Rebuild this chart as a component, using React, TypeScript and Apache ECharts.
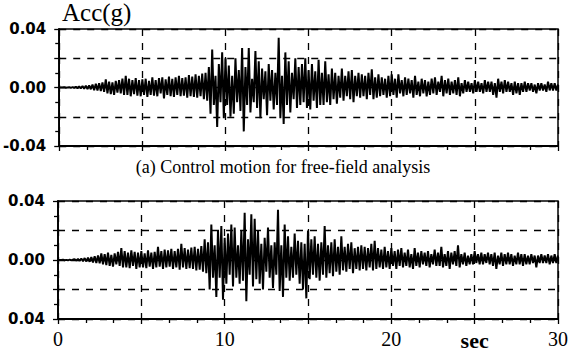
import React, { useEffect, useRef } from "react";
import * as echarts from "echarts";

// sampling step of the digitised records (s)
const SAMPLE_STEP = 0.1;

// (a) control motion, one row per second, 10 samples per row (g)
const topAcc = [
  0, 0, 0, 0.0002, -0.0002, 0, 0.0002, -0.0002, 0.0003, -0.0003,
  0.0005, -0.0005, 0.0008, -0.0006, 0.001, -0.0008, 0.0012, -0.001, 0.0015, -0.0012,
  0.002, -0.0018, 0.0025, -0.002, 0.003, -0.0025, 0.0035, -0.003, 0.0055, -0.004,
  0.004, -0.0045, 0.0035, -0.005, 0.0045, -0.0035, 0.005, -0.004, 0.006, -0.005,
  0.008, -0.005, 0.006, -0.006, 0.005, -0.0045, 0.0065, -0.0055, 0.005, -0.006,
  0.0055, -0.005, 0.006, -0.0065, 0.0045, -0.005, 0.007, -0.0055, 0.005, -0.006,
  0.0065, -0.004, 0.007, -0.0075, 0.0055, -0.005, 0.0075, -0.006, 0.006, -0.0065,
  0.007, -0.005, 0.008, -0.006, 0.0065, -0.0055, 0.007, -0.007, 0.0085, -0.006,
  0.0075, -0.0065, 0.009, -0.007, 0.008, -0.006, 0.0095, -0.008, 0.01, -0.009,
  0.014, -0.018, 0.026, -0.012, 0.008, -0.027, 0.016, -0.01, 0.024, -0.021,
  0.02, -0.012, 0.015, -0.02, 0.008, -0.018, 0.02, -0.01, 0.012, -0.016,
  0.027, -0.03, 0.014, -0.012, 0.027, -0.017, 0.006, -0.01, 0.025, -0.014,
  0.018, -0.021, 0.013, -0.008, 0.011, -0.019, 0.016, -0.009, 0.012, -0.015,
  0.01, -0.012, 0.034, -0.021, 0.008, -0.025, 0.024, -0.012, 0.018, -0.017,
  0.01, -0.008, 0.02, -0.014, 0.014, -0.012, 0.016, -0.01, 0.02, -0.014,
  0.012, -0.015, 0.016, -0.009, 0.011, -0.014, 0.019, -0.012, 0.01, -0.012,
  0.018, -0.01, 0.009, -0.012, 0.013, -0.008, 0.01, -0.011, 0.008, -0.007,
  0.013, -0.009, 0.008, -0.006, 0.011, -0.008, 0.012, -0.01, 0.008, -0.006,
  0.01, -0.007, 0.009, -0.006, 0.008, -0.008, 0.01, -0.005, 0.0125, -0.008,
  0.007, -0.007, 0.009, -0.006, 0.007, -0.005, 0.006, -0.007, 0.008, -0.006,
  0.009, -0.005, 0.006, -0.007, 0.009, -0.004, 0.005, -0.006, 0.007, -0.005,
  0.006, -0.004, 0.005, -0.007, 0.008, -0.005, 0.004, -0.006, 0.006, -0.004,
  0.005, -0.006, 0.004, -0.005, 0.006, -0.004, 0.007, -0.005, 0.004, -0.003,
  0.008, -0.006, 0.005, -0.004, 0.006, -0.005, 0.004, -0.004, 0.005, -0.005,
  0.007, -0.006, 0.003, -0.004, 0.005, -0.003, 0.004, -0.003, 0.003, -0.004,
  0.005, -0.003, 0.004, -0.003, 0.003, -0.004, 0.005, -0.003, 0.004, -0.003,
  0.004, -0.005, 0.003, -0.007, 0.006, -0.003, 0.004, -0.004, 0.005, -0.003,
  0.004, -0.003, 0.003, -0.005, 0.004, -0.004, 0.003, -0.005, 0.003, -0.003,
  0.004, -0.003, 0.003, -0.002, 0.003, -0.003, 0.002, -0.004, 0.003, -0.002,
  0.003, -0.002, 0.002, -0.003, 0.004, -0.002, 0.003, -0.002, 0.003, -0.002,
  0.002,
];

// second record (lower panel), same sampling (g)
const bottomAcc = [
  0, 0, 0, 0.0002, -0.0002, 0.0001, -0.0002, 0.0003, -0.0002, 0.0003,
  0.0005, -0.0004, 0.0007, -0.0006, 0.001, -0.0008, 0.0013, -0.001, 0.0016, -0.0012,
  0.002, -0.0016, 0.0025, -0.002, 0.003, -0.0022, 0.0045, -0.003, 0.004, -0.0035,
  0.005, -0.004, 0.0035, -0.0045, 0.0045, -0.003, 0.0055, -0.004, 0.008, -0.005,
  0.006, -0.005, 0.005, -0.0055, 0.0065, -0.004, 0.0055, -0.006, 0.005, -0.005,
  0.006, -0.005, 0.0045, -0.0055, 0.0065, -0.0045, 0.005, -0.006, 0.0055, -0.005,
  0.009, -0.0045, 0.006, -0.006, 0.007, -0.005, 0.0065, -0.0045, 0.0075, -0.006,
  0.006, -0.005, 0.0075, -0.0065, 0.011, -0.005, 0.008, -0.006, 0.007, -0.0055,
  0.0085, -0.006, 0.009, -0.007, 0.0075, -0.0065, 0.0095, -0.008, 0.014, -0.009,
  0.012, -0.02, 0.024, -0.012, 0.01, -0.025, 0.02, -0.012, 0.023, -0.027,
  0.015, -0.016, 0.018, -0.01, 0.024, -0.018, 0.022, -0.012, 0.01, -0.016,
  0.02, -0.014, 0.032, -0.028, 0.014, -0.01, 0.031, -0.018, 0.028, -0.013,
  0.02, -0.016, 0.011, -0.02, 0.015, -0.008, 0.022, -0.012, 0.01, -0.019,
  0.012, -0.01, 0.034, -0.021, 0.01, -0.025, 0.024, -0.012, 0.016, -0.014,
  0.009, -0.012, 0.018, -0.01, 0.013, -0.016, 0.012, -0.02, 0.011, -0.026,
  0.02, -0.013, 0.014, -0.01, 0.016, -0.012, 0.011, -0.014, 0.012, -0.01,
  0.023, -0.012, 0.01, -0.009, 0.012, -0.011, 0.014, -0.008, 0.009, -0.01,
  0.016, -0.007, 0.009, -0.008, 0.011, -0.006, 0.012, -0.009, 0.008, -0.006,
  0.009, -0.007, 0.01, -0.006, 0.009, -0.007, 0.008, -0.005, 0.011, -0.007,
  0.013, -0.006, 0.008, -0.005, 0.007, -0.006, 0.009, -0.005, 0.006, -0.006,
  0.008, -0.004, 0.006, -0.006, 0.007, -0.004, 0.008, -0.005, 0.005, -0.004,
  0.007, -0.005, 0.004, -0.006, 0.008, -0.004, 0.005, -0.005, 0.006, -0.003,
  0.005, -0.004, 0.006, -0.005, 0.004, -0.003, 0.007, -0.004, 0.005, -0.004,
  0.009, -0.005, 0.004, -0.004, 0.006, -0.006, 0.005, -0.003, 0.006, -0.004,
  0.01, -0.005, 0.004, -0.003, 0.005, -0.004, 0.003, -0.003, 0.004, -0.003,
  0.006, -0.002, 0.004, -0.003, 0.005, -0.003, 0.004, -0.002, 0.005, -0.003,
  0.004, -0.004, 0.005, -0.006, 0.003, -0.003, 0.005, -0.004, 0.004, -0.003,
  0.005, -0.003, 0.004, -0.004, 0.003, -0.003, 0.005, -0.003, 0.004, -0.004,
  0.004, -0.003, 0.003, -0.003, 0.004, -0.002, 0.003, -0.005, 0.003, -0.002,
  0.004, -0.002, 0.003, -0.002, 0.004, -0.003, 0.003, -0.002, 0.004, -0.002,
  0.003,
];

const xTickLabels: Record<number, string> = { 0: "0", 10: "10", 20: "20", 25: "sec", 30: "30" };
const topYTickLabels: Record<number, string> = { 4: "0.04", 0: "0.00", [-4]: "-0.04" };
const bottomYTickLabels: Record<number, string> = { 4: "0.04", 0: "0.00", [-4]: "0.04" };
const yTitle = "Acc(g)";
const caption = "(a) Control motion for free-field analysis";

const SERIF = "Liberation Serif";
const SANS = "DejaVu Sans";

function toPairs(values: number[]) {
  return values.map((v, i) => [Math.round(i * SAMPLE_STEP * 10) / 10, v]);
}

export default function App() {
  const ref = useRef<HTMLDivElement>(null);

  useEffect(() => {
    document.body.style.margin = "0";
    if (!ref.current) return;
    const chart = echarts.init(ref.current, undefined, { renderer: "svg" });

    const dash = [7, 7];
    const makeX = (gridIndex: number, showLabels: boolean) => ({
      type: "value",
      gridIndex,
      min: 0,
      max: 30,
      interval: 5,
      axisLine: { show: true, onZero: false, lineStyle: { color: "#000", width: 1.8 } },
      axisTick: { show: true, length: 5, lineStyle: { color: "#000", width: 1.3 } },
      minorTick: { show: true, splitNumber: 3, length: 4, lineStyle: { color: "#000", width: 1.3 } },
      splitLine: { show: true, lineStyle: { color: "#000", type: dash, width: 1.3 } },
      axisLabel: {
        show: showLabels,
        margin: 10,
        color: "#000",
        fontFamily: SERIF,
        fontSize: 20,
        formatter: (v: number) => {
          const s = xTickLabels[Math.round(v)];
          if (s === undefined) return "";
          return s === "sec" ? "{s|sec}" : s;
        },
        rich: { s: { fontFamily: SERIF, fontSize: 22, fontWeight: "bold", color: "#000" } },
      },
    });
    const makeY = (gridIndex: number, labels: Record<number, string>) => ({
      type: "value",
      gridIndex,
      min: -0.04,
      max: 0.04,
      interval: 0.02,
      axisLine: { show: true, onZero: false, lineStyle: { color: "#000", width: 1.8 } },
      axisTick: { show: true, length: 5, lineStyle: { color: "#000", width: 1.3 } },
      minorTick: { show: true, splitNumber: 2, length: 4, lineStyle: { color: "#000", width: 1.3 } },
      splitLine: { show: true, lineStyle: { color: "#000", type: dash, width: 1.3 } },
      axisLabel: {
        margin: 13,
        color: "#000",
        fontFamily: SANS,
        fontWeight: "bold",
        fontSize: 15,
        formatter: (v: number) => labels[Math.round(v * 100)] ?? "",
      },
    });

    chart.setOption({
      animation: false,
      backgroundColor: "#fff",
      grid: [
        { left: 58, right: 18, top: 29, height: 117, show: true, borderColor: "#000", borderWidth: 1.5 },
        { left: 58, right: 18, top: 201, height: 118, show: true, borderColor: "#000", borderWidth: 1.5 },
      ],
      xAxis: [makeX(0, false), makeX(1, true)],
      yAxis: [makeY(0, topYTickLabels), makeY(1, bottomYTickLabels)],
      series: [
        {
          type: "line",
          xAxisIndex: 0,
          yAxisIndex: 0,
          data: toPairs(topAcc),
          showSymbol: false,
          lineStyle: { color: "#000", width: 2 },
        },
        {
          type: "line",
          xAxisIndex: 1,
          yAxisIndex: 1,
          data: toPairs(bottomAcc),
          showSymbol: false,
          lineStyle: { color: "#000", width: 2 },
        },
      ],
      graphic: [
        {
          type: "text",
          left: 62,
          top: 0,
          style: { text: yTitle, font: `25px '${SERIF}'`, fill: "#000" },
        },
        {
          type: "text",
          x: 283,
          y: 167,
          style: {
            text: caption,
            font: `18px '${SERIF}'`,
            fill: "#000",
            textAlign: "center",
            textVerticalAlign: "middle",
          },
        },
      ],
    });

    return () => chart.dispose();
  }, []);

  return (
    <div
      ref={ref}
      style={{ position: "absolute", left: 0, top: 0, width: 576, height: 354 }}
    />
  );
}
